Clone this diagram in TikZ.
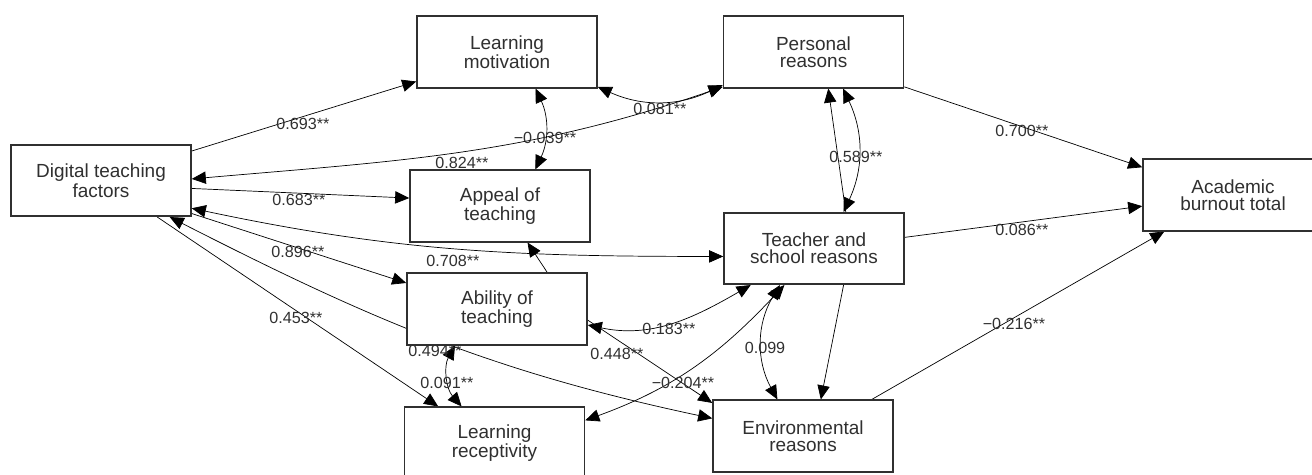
\documentclass[tikz,border=0pt]{standalone}
\usepackage{fontspec}
\setmainfont{Liberation Sans}
\usetikzlibrary{arrows.meta}
\definecolor{ink}{HTML}{303030}
\pgfdeclarelayer{bg}
\pgfsetlayers{bg,main}
\begin{document}
\begin{tikzpicture}[x=0.02cm,y=-0.02cm,line width=0.85pt,>={Triangle[length=8pt,width=7pt]},box/.style={draw=ink,line width=0.9pt,fill=white,minimum width=3.6cm,minimum height=1.43cm,align=center,text=ink,font=\fontsize{10.8}{9.8}\selectfont},lbl/.style={text=ink,inner sep=0pt,font=\fontsize{9.2}{10}\selectfont}]
\useasboundingbox (0,0) rectangle (1312,474);
\node[box] (dtf) at (101,180.5) {Digital teaching\\factors};
\node[box] (lm) at (507,52) {Learning\\motivation};
\node[box] (pr) at (813.5,52) {Personal\\reasons};
\node[box] (appeal) at (500,206) {Appeal of\\teaching};
\node[box] (tsr) at (814,248.5) {Teacher and\\school reasons};
\node[box] (abt) at (1233,195) {Academic\\burnout total};
\node[box] (abil) at (497,309) {Ability of\\teaching};
\node[box] (lr) at (494.5,443) {Learning\\receptivity};
\node[box] (er) at (803,436) {Environmental\\reasons};
\begin{pgfonlayer}{bg}
\draw[->] (dtf.18) -- (lm.198);
\draw[<->] (dtf.1) to[out=5,in=199] (pr.201);
\draw[->] (dtf.-5) -- (appeal.175);
\draw[<->] (dtf.-17) to[out=-12,in=180] (tsr.185);
\draw[->] (dtf.-20) -- (abil.164);
\draw[<->] (dtf.-28) to[out=-27,in=168] (er.169);
\draw[->] (dtf.-33) -- (lr.147);
\draw[<->] (lm.-52) to[bend left=25] (appeal.46);
\draw[<->] (lm.-21) to[bend right=25] (pr.200);
\draw[->] (tsr.49) -- (pr.-68);
\draw[<->] (pr.-51) to[bend left=25] (tsr.51);
\draw[->] (pr.-21) -- (abt.163);
\draw[->] (tsr.7) -- (abt.187);
\draw[->] (er.28) -- (abt.208);
\draw[->] (abil.36) -- (appeal.-53);
\draw[<->] (abil.-10) to[out=-12,in=210] (tsr.210);
\draw[->] (abil.-7) -- (er.160);
\draw[<->] (abil.221) to[bend right=35] (lr.132);
\draw[<->] (lr.14) to[out=20,in=227] (tsr.231);
\draw[<->] (tsr.227) to[bend right=30] (er.125);
\draw[->] (tsr.-51) -- (er.64);
\end{pgfonlayer}
\foreach \i/\x/\y/\t in {1/303/124/0.693**,2/462/163/0.824**,3/299/200/0.683**,4/298/252/0.896**,5/453/261/0.708**,6/296/318/0.453**,7/435/351/0.494**,8/447/383/0.091**,9/545/138/−0.039**,10/660/109/0.081**,11/856/157/0.589**,12/1022/131/0.700**,13/1022/230/0.086**,14/1014/324/−0.216**,15/669/329/0.183**,16/617/354/0.448**,17/683/383/−0.204**,18/765/348/0.099}
  \node[lbl] (w\i) at (\x,\y) {\t};
\end{tikzpicture}
\end{document}
